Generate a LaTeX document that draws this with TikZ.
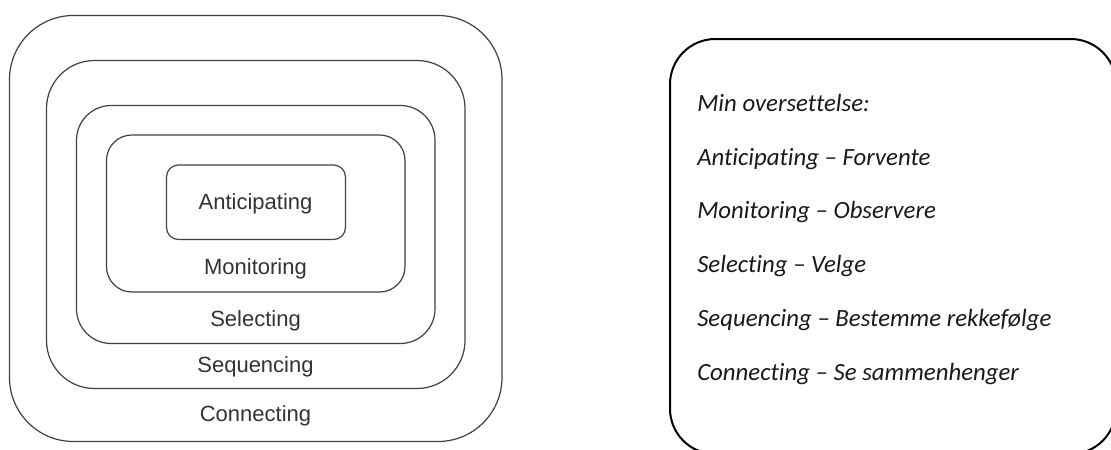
\documentclass[tikz,border=0pt]{standalone}
\usepackage{fontspec}
\usepackage{tikz}
\newfontfamily\figfont{Liberation Sans}
\newfontfamily\notefont[Ligatures={NoCommon,NoRare}]{Carlito}

\begin{document}
\begin{tikzpicture}[x=0.75pt,y=-0.75pt,
    layer/.style={draw=black!75, line width=0.9pt},
    layertext/.style={anchor=base, text=black!80, font=\figfont\fontsize{16.5}{18}\selectfont},
    notetext/.style={anchor=base west, inner sep=0pt, text=black!90, font=\notefont\itshape\fontsize{18.6}{20}\selectfont}]
      \clip (0,0) rectangle (1111,450);
      % nested layers, outermost first
      \draw[layer, rounded corners=48pt] (9.5,15.5) rectangle (502,441.5);
      \draw[layer, rounded corners=36pt] (46.5,60.5) rectangle (465,388.5);
      \draw[layer, rounded corners=26pt] (76.5,105.5) rectangle (435,343.5);
      \draw[layer, rounded corners=19pt] (106.5,135) rectangle (405,292);
      \draw[layer, rounded corners=9pt] (166.5,165) rectangle (345.5,239.5);
      \node[layertext] (anticipating) at (255.5,209) {Anticipating};
      \node[layertext] (monitoring) at (255.5,274) {Monitoring};
      \node[layertext] (selecting) at (255.5,326) {Selecting};
      \node[layertext] (sequencing) at (255.5,372) {Sequencing};
      \node[layertext] (connecting) at (255.5,421.5) {Connecting};
      % translation box
      \draw[line width=1.5pt, rounded corners=34pt] (670,39) rectangle (1116,454);
      \node[notetext] (title) at (697,111.5) {Min oversettelse:};
      \node[notetext] (tr1) at (697,165) {Anticipating – Forvente};
      \node[notetext] (tr2) at (697,218.5) {Monitoring – Observere};
      \node[notetext] (tr3) at (697,272.5) {Selecting – Velge};
      \node[notetext] (tr4) at (697,326) {Sequencing – Bestemme rekkefølge};
      \node[notetext] (tr5) at (697,380) {Connecting – Se sammenhenger};
    \end{tikzpicture}
\end{document}
